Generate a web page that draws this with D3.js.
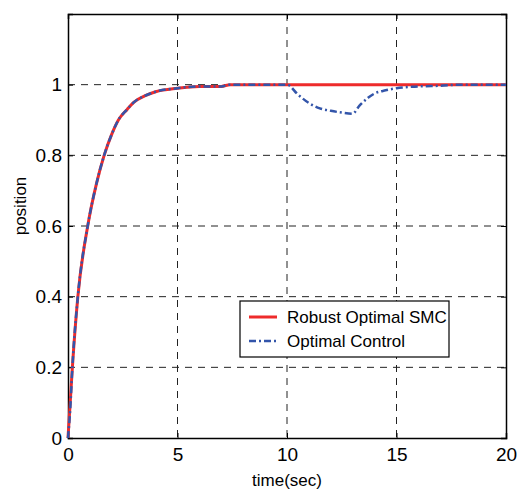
<!DOCTYPE html>
<html>
<head>
<meta charset="utf-8">
<script src="https://cdn.jsdelivr.net/npm/d3@7"></script>
<style>
body { margin:0; background:#fff; }
text { font-family: "Liberation Sans", Arial, sans-serif; }
</style>
</head>
<body>
<div id="chart-area"></div>
<script>
// data
var tSmc = [0, 0.1, 0.2, 0.45, 0.9, 1.3, 1.65, 2.0, 2.3, 2.7, 3.0, 3.5, 4.0, 5.0, 6.0, 7.0, 7.4, 10, 15, 20];
var ySmc = [0, 0.1, 0.2, 0.4, 0.6, 0.72, 0.8, 0.86, 0.9, 0.93, 0.95, 0.968, 0.98, 0.99, 0.995, 0.995, 1, 1, 1, 1];
var tOpt = [0, 0.1, 0.2, 0.45, 0.9, 1.3, 1.65, 2.0, 2.3, 2.7, 3.0, 3.5, 4.0, 5.0, 6.0, 7.0, 7.4, 10, 10.5, 11, 11.5, 12, 12.5, 13, 13.3, 13.7, 14, 14.5, 15, 16, 17, 18, 20];
var yOpt = [0, 0.08, 0.2, 0.4, 0.6, 0.72, 0.8, 0.86, 0.9, 0.93, 0.95, 0.968, 0.98, 0.99, 0.995, 0.995, 1, 1, 0.972, 0.948, 0.933, 0.926, 0.921, 0.918, 0.94, 0.963, 0.975, 0.984, 0.99, 0.995, 0.997, 1, 1];
var xTicks = [0, 5, 10, 15, 20];
var yTicks = [0, 0.2, 0.4, 0.6, 0.8, 1];
var names = ["Robust Optimal SMC", "Optimal Control"];

var margin = { left:68, right:11, top:14, bottom:52 };
var width = 517 - margin.left - margin.right,
    height = 490 - margin.top - margin.bottom;

var svg = d3.select("#chart-area").append("svg")
    .attr("width", 517).attr("height", 490)
  .append("g")
    .attr("transform", "translate(" + margin.left + "," + margin.top + ")");

var xScale = d3.scaleLinear().domain([0, 20]).range([0, width]);
var yScale = d3.scaleLinear().domain([0, 1.2]).range([height, 0]);

// grid
svg.selectAll(".gx").data(xTicks.slice(1, -1)).enter().append("line")
    .attr("x1", d => xScale(d)).attr("x2", d => xScale(d))
    .attr("y1", 0).attr("y2", height)
    .attr("stroke", "#222").attr("stroke-dasharray", "7,6");
svg.selectAll(".gy").data(yTicks.slice(1)).enter().append("line")
    .attr("x1", 0).attr("x2", width)
    .attr("y1", d => yScale(d)).attr("y2", d => yScale(d))
    .attr("stroke", "#222").attr("stroke-dasharray", "7,6");

// axes
svg.append("g").attr("transform", "translate(0," + height + ")")
    .call(d3.axisBottom(xScale).tickValues(xTicks).tickSize(-5).tickPadding(10));
svg.append("g")
    .call(d3.axisLeft(yScale).tickValues(yTicks).tickSize(-5).tickPadding(6).tickFormat(d3.format("")));
svg.append("g").call(d3.axisTop(xScale).tickValues(xTicks).tickSize(-5).tickFormat(""));
svg.append("g").attr("transform", "translate(" + width + ",0)")
    .call(d3.axisRight(yScale).tickValues(yTicks).tickSize(-5).tickFormat(""));
svg.selectAll(".domain").attr("stroke", "#000").attr("stroke-width", 1.5);
svg.selectAll(".tick text").attr("font-size", "19px").attr("fill", "#000")
    .attr("font-family", "Liberation Sans, Arial, sans-serif");

// labels
svg.append("text").attr("x", width / 2).attr("y", height + 48)
    .attr("text-anchor", "middle").attr("font-size", "17px").text("time(sec)");
svg.append("text").attr("transform", "rotate(-90)")
    .attr("x", -height / 2 + 20).attr("y", -42)
    .attr("text-anchor", "middle").attr("font-size", "17px").text("position");

var line = d3.line().curve(d3.curveMonotoneX)
    .x(d => xScale(d[0])).y(d => yScale(d[1]));

svg.append("path").datum(d3.zip(tSmc, ySmc)).attr("d", line)
    .attr("fill", "none").attr("stroke", "#ee2b2b").attr("stroke-width", 3);
svg.append("path").datum(d3.zip(tOpt, yOpt)).attr("d", line)
    .attr("fill", "none").attr("stroke", "#3355aa").attr("stroke-width", 2.5)
    .attr("stroke-dasharray", "7,3,2,3");

// legend
var lg = svg.append("g").attr("transform", "translate(" + (240 - margin.left) + "," + (301 - margin.top) + ")");
lg.append("rect").attr("width", 209).attr("height", 56)
    .attr("fill", "#fff").attr("stroke", "#000").attr("stroke-width", 1.2);
lg.append("line").attr("x1", 9).attr("x2", 37).attr("y1", 16).attr("y2", 16)
    .attr("stroke", "#ee2b2b").attr("stroke-width", 3);
lg.append("line").attr("x1", 9).attr("x2", 37).attr("y1", 40).attr("y2", 40)
    .attr("stroke", "#3355aa").attr("stroke-width", 2.5).attr("stroke-dasharray", "7,3,2,3");
lg.selectAll(".lt").data(names).enter().append("text")
    .attr("x", 47).attr("y", (d, i) => 22 + i * 24)
    .attr("font-size", "17px").text(d => d);
</script>
</body>
</html>
